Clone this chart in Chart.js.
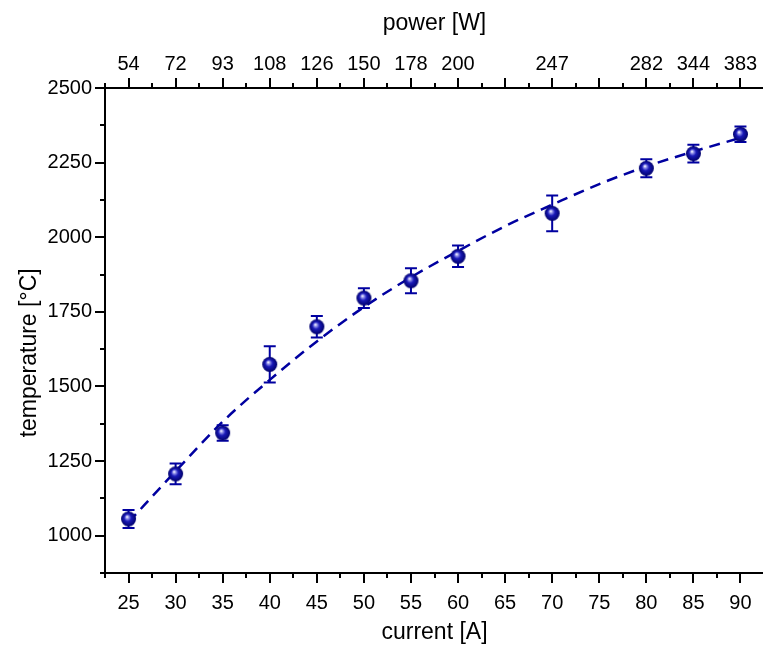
<!DOCTYPE html>
<html><head><meta charset="utf-8">
<script src="https://cdn.jsdelivr.net/npm/chart.js@4.4.1/dist/chart.umd.min.js"></script>
<style>
html,body{margin:0;padding:0;background:#fff;overflow:hidden;}
#wrap{width:763px;height:646px;overflow:hidden;position:relative;background:#fff;}
#c{display:block;}
</style></head><body>
<div id="wrap"><canvas id="c" width="782" height="646" style="width:782px;height:646px"></canvas></div>
<script>
// ---- data ----
const currents = [25, 30, 35, 40, 45, 50, 55, 60, 70, 80, 85, 90];             // current [A]
const temps    = [1056, 1207, 1344, 1574, 1700, 1796, 1854, 1936, 2080, 2231, 2280, 2345]; // temperature [°C]
const errs     = [30, 35, 26, 61, 36, 33, 42, 36, 60, 30, 30, 26];            // error bar half-height
const fitCurrents = [25, 30, 35, 40, 45, 50, 55, 60, 65, 70, 75, 80, 85, 90];
const fitTemps    = [1045, 1216, 1382, 1522, 1651, 1766, 1866, 1954, 2037, 2109, 2178, 2237, 2287, 2333];
const powerTickCurrents = [25, 30, 35, 40, 45, 50, 55, 60, 70, 80, 85, 90];
const powerLabels       = ['54', '72', '93', '108', '126', '150', '178', '200', '247', '282', '344', '383'];
const yLabelStep = 250;

const FONT = "'Liberation Sans', Arial, Helvetica, sans-serif";
const BLUE = '#0000a0';

function sphere(r){
  const s = 2*r + 2;
  const c = document.createElement('canvas'); c.width = s; c.height = s;
  const g = c.getContext('2d');
  const cx = s/2, cy = s/2;
  const grad = g.createRadialGradient(cx-1.5, cy-2.2, 0.4, cx, cy, r);
  grad.addColorStop(0, '#f0f0ff');
  grad.addColorStop(0.18, '#8c8ce8');
  grad.addColorStop(0.45, '#1a1ab8');
  grad.addColorStop(1, '#00006a');
  g.fillStyle = grad;
  g.beginPath(); g.arc(cx, cy, r, 0, Math.PI*2); g.fill();
  return c;
}

const isMult = (v, m) => Math.abs(v/m - Math.round(v/m)) < 1e-6;

const errorBars = {
  id: 'errorBars',
  beforeDatasetsDraw(chart){
    const {ctx} = chart; const x = chart.scales.x, y = chart.scales.y;
    ctx.save();
    ctx.strokeStyle = BLUE; ctx.lineWidth = 2;
    currents.forEach((c, i) => {
      const px = x.getPixelForValue(c);
      const t = y.getPixelForValue(temps[i] + errs[i]);
      const b = y.getPixelForValue(temps[i] - errs[i]);
      ctx.beginPath();
      ctx.moveTo(px, t); ctx.lineTo(px, b);
      ctx.moveTo(px-6, t); ctx.lineTo(px+6, t);
      ctx.moveTo(px-6, b); ctx.lineTo(px+6, b);
      ctx.stroke();
    });
    ctx.restore();
  }
};

const tickMarks = {
  id: 'tickMarks',
  afterDraw(chart){
    const {ctx, chartArea: ca} = chart;
    const x = chart.scales.x, x2 = chart.scales.x2, y = chart.scales.y;
    ctx.save(); ctx.strokeStyle = '#000'; ctx.lineWidth = 2; ctx.lineCap = 'butt';
    ctx.beginPath();
    x.ticks.forEach(t => { const p = Math.round(x.getPixelForValue(t.value)); const L = isMult(t.value,5)?10:5; ctx.moveTo(p, ca.bottom); ctx.lineTo(p, ca.bottom+L); });
    x2.ticks.forEach(t => { const p = Math.round(x2.getPixelForValue(t.value)); const L = isMult(t.value,5)?10:5; ctx.moveTo(p, ca.top); ctx.lineTo(p, ca.top-L); });
    y.ticks.forEach(t => { const p = Math.round(y.getPixelForValue(t.value)); const L = isMult(t.value,yLabelStep)?10:5; ctx.moveTo(ca.left, p); ctx.lineTo(ca.left-L, p); });
    ctx.stroke();
    ctx.restore();
  }
};

const tickFont = {family: FONT, size: 20};
const titleFont = {family: FONT, size: 23};

new Chart(document.getElementById('c'), {
  type: 'scatter',
  data: {
    datasets: [
      {
        type: 'line',
        data: fitCurrents.map((c, i) => ({x: c, y: fitTemps[i]})),
        borderColor: BLUE, borderWidth: 2.5, borderDash: [11, 7],
        pointRadius: 0, cubicInterpolationMode: 'monotone', fill: false, order: 2
      },
      {
        data: currents.map((c, i) => ({x: c, y: temps[i]})),
        pointStyle: sphere(7.5), pointRadius: 7.5, showLine: false, order: 1
      }
    ]
  },
  options: {
    responsive: false, devicePixelRatio: 1, animation: false,
    layout: {padding: {left: 0, right: 10, top: 0, bottom: 0}},
    plugins: {legend: {display: false}, tooltip: {enabled: false}},
    scales: {
      x: {
        type: 'linear', position: 'bottom', min: 22.5, max: 92.5,
        ticks: {stepSize: 2.5, autoSkip: false, maxRotation: 0, color: '#000', font: tickFont, padding: 18,
          callback: v => (isMult(v,5) && v >= 25 && v <= 90) ? String(v) : ''},
        grid: {drawOnChartArea: false, drawTicks: false},
        border: {display: true, color: '#000', width: 2},
        title: {display: true, text: 'current [A]', color: '#000', font: titleFont, padding: {top: 0, bottom: 0}},
        afterFit: s => { s.height = 73; }
      },
      x2: {
        type: 'linear', position: 'top', min: 22.5, max: 92.5,
        ticks: {stepSize: 2.5, autoSkip: false, maxRotation: 0, color: '#000', font: tickFont, padding: 12,
          callback: v => { const i = powerTickCurrents.findIndex(c => Math.abs(c - v) < 1e-6); return i >= 0 ? powerLabels[i] : ''; }},
        grid: {drawOnChartArea: false, drawTicks: false},
        border: {display: true, color: '#000', width: 2},
        title: {display: true, text: 'power [W]', color: '#000', font: titleFont, padding: {top: 10, bottom: 0}},
        afterFit: s => { s.height = 88; }
      },
      y: {
        type: 'linear', position: 'left', min: 875, max: 2500,
        ticks: {stepSize: 125, autoSkip: false, color: '#000', font: tickFont, padding: 13,
          callback: v => isMult(v, yLabelStep) ? String(v) : ''},
        grid: {drawOnChartArea: false, drawTicks: false},
        border: {display: true, color: '#000', width: 2},
        title: {display: true, text: 'temperature [°C]       ', color: '#000', font: titleFont, padding: {top: 16, bottom: 0}},
        afterFit: s => { s.width = 105; }
      }
    }
  },
  plugins: [errorBars, tickMarks]
});
</script>
</body></html>
